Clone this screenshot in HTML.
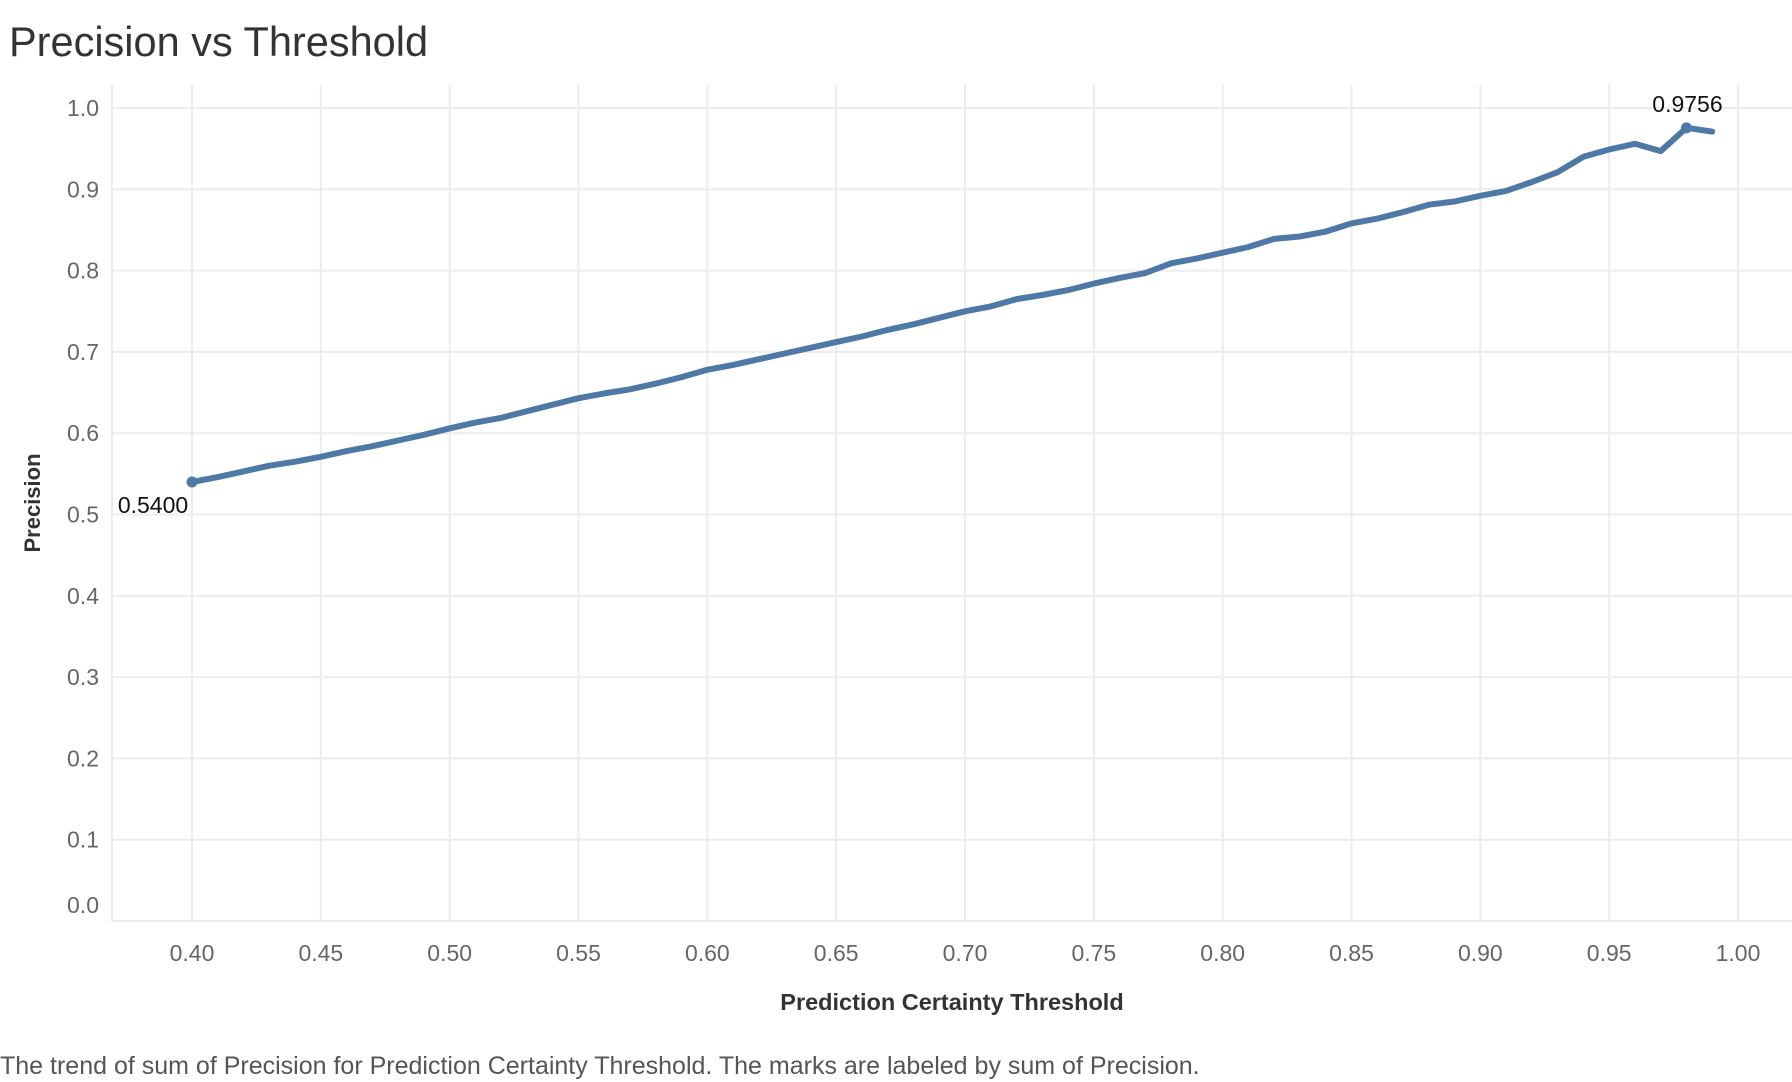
<!DOCTYPE html>
<html><head><meta charset="utf-8"><style>
html,body{margin:0;padding:0;background:#fff;}
svg{display:block;font-family:"Liberation Sans",sans-serif;}
</style></head><body>
<svg id="chart" width="1792" height="1082" viewBox="0 0 1792 1082">
<text x="9" y="56" font-size="41.5" fill="#333">Precision vs Threshold</text>
<g id="grid"></g>
<g id="axes"></g>
<g id="series"></g>
<text x="952" y="1010" font-size="23.5" font-weight="bold" fill="#333" text-anchor="middle">Prediction Certainty Threshold</text>
<text transform="translate(40,503) rotate(-90)" font-size="22" font-weight="bold" fill="#333" text-anchor="middle">Precision</text>
<text x="0" y="1074" font-size="25" fill="#555">The trend of sum of Precision for Prediction Certainty Threshold.  The marks are labeled by sum of Precision.</text>
</svg>
<script>
const thresholds = [0.40,0.41,0.42,0.43,0.44,0.45,0.46,0.47,0.48,0.49,0.50,0.51,0.52,0.53,0.54,0.55,0.56,0.57,0.58,0.59,0.60,0.61,0.62,0.63,0.64,0.65,0.66,0.67,0.68,0.69,0.70,0.71,0.72,0.73,0.74,0.75,0.76,0.77,0.78,0.79,0.80,0.81,0.82,0.83,0.84,0.85,0.86,0.87,0.88,0.89,0.90,0.91,0.92,0.93,0.94,0.95,0.96,0.97,0.98,0.99];
const precision = [0.5400,0.5460,0.5530,0.5600,0.5650,0.5710,0.5780,0.5840,0.5910,0.5980,0.6060,0.6130,0.6190,0.6270,0.6350,0.6430,0.6490,0.6540,0.6610,0.6690,0.6780,0.6840,0.6910,0.6980,0.7050,0.7120,0.7190,0.7270,0.7340,0.7420,0.7500,0.7560,0.7650,0.7700,0.7760,0.7840,0.7910,0.7970,0.8090,0.8150,0.8220,0.8290,0.8390,0.8420,0.8480,0.8580,0.8640,0.8720,0.8810,0.8850,0.8920,0.8980,0.9090,0.9210,0.9400,0.9490,0.9560,0.9470,0.9756,0.9710];
const xTicks = [0.40,0.45,0.50,0.55,0.60,0.65,0.70,0.75,0.80,0.85,0.90,0.95,1.00];
const xTickLabels = ["0.40","0.45","0.50","0.55","0.60","0.65","0.70","0.75","0.80","0.85","0.90","0.95","1.00"];
const yTicks = [0,0.1,0.2,0.3,0.4,0.5,0.6,0.7,0.8,0.9,1.0];
const yTickLabels = ["0.0","0.1","0.2","0.3","0.4","0.5","0.6","0.7","0.8","0.9","1.0"];

const NS="http://www.w3.org/2000/svg";
const X = v => 192 + (v-0.40)/0.60*(1738-192);
const Y = v => 921 - v*(921-108);
function mk(tag, attrs, parent){const e=document.createElementNS(NS,tag);for(const k in attrs)e.setAttribute(k,attrs[k]);parent.appendChild(e);return e;}
const grid=document.getElementById('grid'), axes=document.getElementById('axes'), series=document.getElementById('series');

yTicks.forEach((t,i)=>{
  const l=mk('line',{x1:112,x2:1792,y1:Y(t),y2:Y(t),stroke:'#ececec','stroke-width':2},grid);
  
  
  const ty = i===0 ? Y(t)-16 : Y(t);
  const tx=mk('text',{x:99,y:ty+8,'font-size':23,fill:'#666','text-anchor':'end'},axes);
  tx.textContent=yTickLabels[i];
  
  
});
xTicks.forEach((t,i)=>{
  const l=mk('line',{x1:X(t),x2:X(t),y1:85,y2:921,stroke:'#ececec','stroke-width':2},grid);
  
  
  const tx=mk('text',{x:X(t),y:961,'font-size':23,fill:'#666','text-anchor':'middle'},axes);
  tx.textContent=xTickLabels[i];
  
  
});
const ax=mk('line',{x1:112,x2:112,y1:85,y2:921,stroke:'#ececec','stroke-width':2},grid);



const pts=thresholds.map((t,i)=>X(t).toFixed(1)+','+Y(precision[i]).toFixed(1)).join(' ');
const line=mk('polyline',{points:pts,fill:'none',stroke:'#4e79a7','stroke-width':6,'stroke-linejoin':'round','stroke-linecap':'round'},series);



const iFirst=0;
let iMax=0; precision.forEach((v,i)=>{if(v>precision[iMax])iMax=i;});
[[iFirst,'start-point',1],[iMax,'max-point',-1]].forEach(([i,name,dir])=>{
  const c=mk('circle',{cx:X(thresholds[i]),cy:Y(precision[i]),r:5.5,fill:'#4e79a7'},series);
  
  
  const lx = dir>0 ? X(thresholds[i])-39 : X(thresholds[i])+1;
  const ly = dir>0 ? Y(precision[i])+31 : Y(precision[i])-16;
  const t=mk('text',{x:lx,y:ly,'font-size':23,fill:'#111','text-anchor':'middle'},series);
  t.textContent=precision[i].toFixed(4);
  
  
});
</script>
</body></html>
